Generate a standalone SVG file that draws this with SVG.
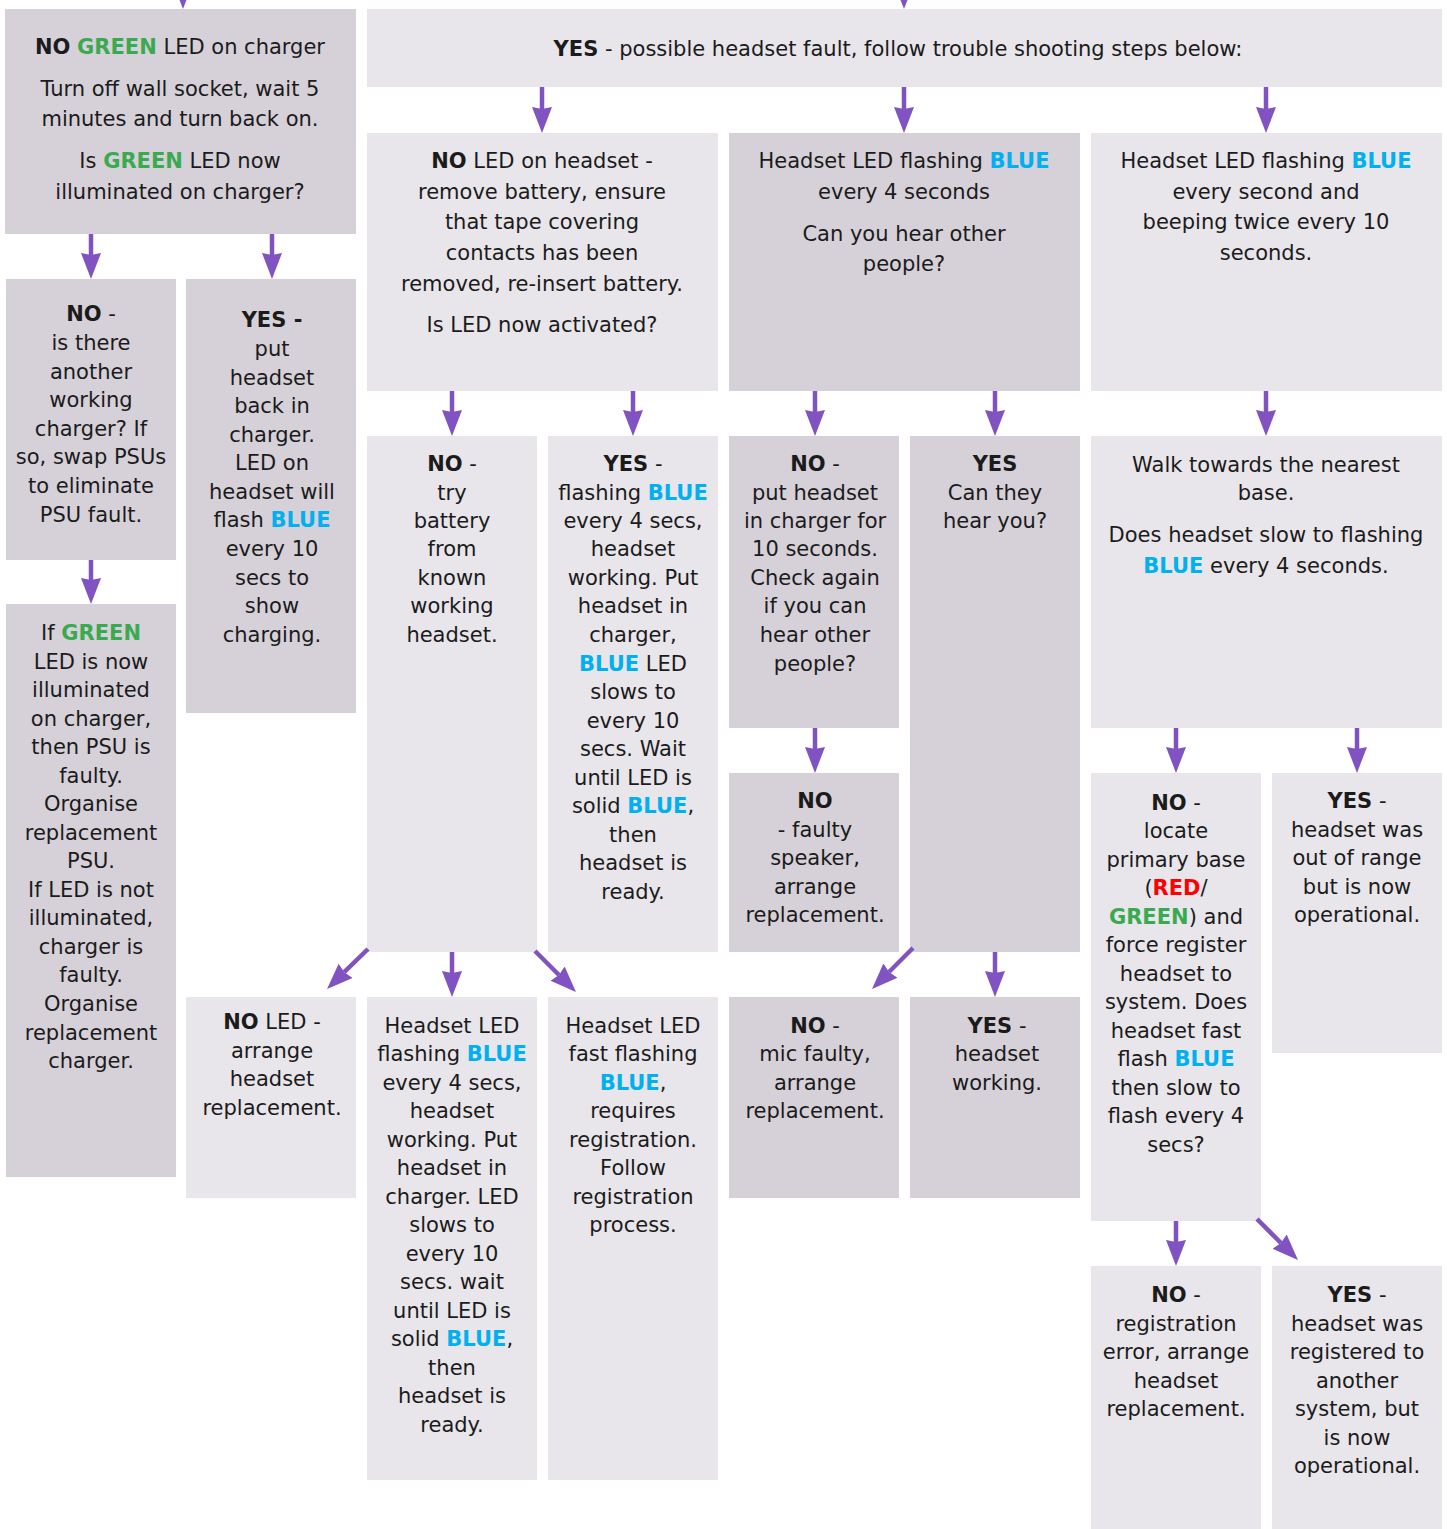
<svg xmlns="http://www.w3.org/2000/svg" width="1447" height="1529" viewBox="0 0 1447 1529">
<style>
.dk{fill:#d6d1d8}
.lt{fill:#e8e6ea}
text{font-family:"DejaVu Sans","Liberation Sans",sans-serif;font-size:21px;text-anchor:middle;fill:#1b1b1b}
.b{font-weight:bold}
.g{font-weight:bold;fill:#3aaa50}
.bl{font-weight:bold;fill:#00b0f0}
.r{font-weight:bold;fill:#ff0000}
.c{stroke:#8052c2;stroke-width:4.5;fill:none;marker-end:url(#ah)}
</style>
<defs>
<marker id="ah" markerUnits="userSpaceOnUse" markerWidth="28" markerHeight="22" refX="2" refY="10" orient="auto" viewBox="0 0 28 20">
<path d="M0,0 L26,10 L0,20 L2,10 Z" fill="#8052c2"/>
</marker>
</defs>
<rect width="1447" height="1529" fill="#ffffff"/>

<g id="n-charger">
<rect class="dk" x="5" y="9" width="351" height="225"/>
<text x="180" y="54"><tspan class="b">NO</tspan> <tspan class="g">GREEN</tspan> LED on charger</text>
<text x="180" y="96">Turn off wall socket, wait 5</text>
<text x="180" y="126">minutes and turn back on.</text>
<text x="180" y="168">Is <tspan class="g">GREEN</tspan> LED now</text>
<text x="180" y="199">illuminated on charger?</text>
</g>

<g id="n-yes-top">
<rect class="lt" x="367" y="9" width="1075" height="78"/>
<text x="898" y="56"><tspan class="b">YES</tspan> - possible headset fault, follow trouble shooting steps below:</text>
</g>

<g id="n-no-led">
<rect class="lt" x="367" y="133" width="351" height="258"/>
<text x="542" y="168"><tspan class="b">NO</tspan> LED on headset -</text>
<text x="542" y="199">remove battery, ensure</text>
<text x="542" y="229">that tape covering</text>
<text x="542" y="260">contacts has been</text>
<text x="542" y="291">removed, re-insert battery.</text>
<text x="542" y="332">Is LED now activated?</text>
</g>

<g id="n-flash4">
<rect class="dk" x="729" y="133" width="351" height="258"/>
<text x="904" y="168">Headset LED flashing <tspan class="bl">BLUE</tspan></text>
<text x="904" y="199">every 4 seconds</text>
<text x="904" y="241">Can you hear other</text>
<text x="904" y="271">people?</text>
</g>

<g id="n-flash1">
<rect class="lt" x="1091" y="133" width="351" height="258"/>
<text x="1266" y="168">Headset LED flashing <tspan class="bl">BLUE</tspan></text>
<text x="1266" y="199">every second and</text>
<text x="1266" y="229">beeping twice every 10</text>
<text x="1266" y="260">seconds.</text>
</g>

<g id="n-no-charger">
<rect class="dk" x="6" y="279" width="170" height="281"/>
<text x="91" y="321"><tspan class="b">NO</tspan> -</text>
<text x="91" y="350">is there</text>
<text x="91" y="379">another</text>
<text x="91" y="407">working</text>
<text x="91" y="436">charger? If</text>
<text x="91" y="464">so, swap PSUs</text>
<text x="91" y="493">to eliminate</text>
<text x="91" y="522">PSU fault.</text>
</g>

<g id="n-yes-put">
<rect class="dk" x="186" y="279" width="170" height="434"/>
<text x="272" y="327"><tspan class="b">YES -</tspan></text>
<text x="272" y="356">put</text>
<text x="272" y="385">headset</text>
<text x="272" y="413">back in</text>
<text x="272" y="442">charger.</text>
<text x="272" y="470">LED on</text>
<text x="272" y="499">headset will</text>
<text x="272" y="527">flash <tspan class="bl">BLUE</tspan></text>
<text x="272" y="556">every 10</text>
<text x="272" y="585">secs to</text>
<text x="272" y="613">show</text>
<text x="272" y="642">charging.</text>
</g>

<g id="n-if-green">
<rect class="dk" x="6" y="604" width="170" height="573"/>
<text x="91" y="640">If <tspan class="g">GREEN</tspan></text>
<text x="91" y="669">LED is now</text>
<text x="91" y="697">illuminated</text>
<text x="91" y="726">on charger,</text>
<text x="91" y="754">then PSU is</text>
<text x="91" y="783">faulty.</text>
<text x="91" y="811">Organise</text>
<text x="91" y="840">replacement</text>
<text x="91" y="868">PSU.</text>
<text x="91" y="897">If LED is not</text>
<text x="91" y="925">illuminated,</text>
<text x="91" y="954">charger is</text>
<text x="91" y="982">faulty.</text>
<text x="91" y="1011">Organise</text>
<text x="91" y="1040">replacement</text>
<text x="91" y="1068">charger.</text>
</g>

<g id="n-no-try">
<rect class="lt" x="367" y="436" width="170" height="516"/>
<text x="452" y="471"><tspan class="b">NO</tspan> -</text>
<text x="452" y="500">try</text>
<text x="452" y="528">battery</text>
<text x="452" y="556">from</text>
<text x="452" y="585">known</text>
<text x="452" y="613">working</text>
<text x="452" y="642">headset.</text>
</g>

<g id="n-yes-flashing">
<rect class="lt" x="548" y="436" width="170" height="516"/>
<text x="633" y="471"><tspan class="b">YES</tspan> -</text>
<text x="633" y="500">flashing <tspan class="bl">BLUE</tspan></text>
<text x="633" y="528">every 4 secs,</text>
<text x="633" y="556">headset</text>
<text x="633" y="585">working. Put</text>
<text x="633" y="613">headset in</text>
<text x="633" y="642">charger,</text>
<text x="633" y="671"><tspan class="bl">BLUE</tspan> LED</text>
<text x="633" y="699">slows to</text>
<text x="633" y="728">every 10</text>
<text x="633" y="756">secs. Wait</text>
<text x="633" y="785">until LED is</text>
<text x="633" y="813">solid <tspan class="bl">BLUE</tspan>,</text>
<text x="633" y="842">then</text>
<text x="633" y="870">headset is</text>
<text x="633" y="899">ready.</text>
</g>

<g id="n-no-put">
<rect class="dk" x="729" y="436" width="170" height="292"/>
<text x="815" y="471"><tspan class="b">NO</tspan> -</text>
<text x="815" y="500">put headset</text>
<text x="815" y="528">in charger for</text>
<text x="815" y="556">10 seconds.</text>
<text x="815" y="585">Check again</text>
<text x="815" y="613">if you can</text>
<text x="815" y="642">hear other</text>
<text x="815" y="671">people?</text>
</g>

<g id="n-yes-can">
<rect class="dk" x="910" y="436" width="170" height="516"/>
<text x="995" y="471"><tspan class="b">YES</tspan></text>
<text x="995" y="500">Can they</text>
<text x="995" y="528">hear you?</text>
</g>

<g id="n-walk">
<rect class="lt" x="1091" y="436" width="351" height="292"/>
<text x="1266" y="472">Walk towards the nearest</text>
<text x="1266" y="500">base.</text>
<text x="1266" y="542">Does headset slow to flashing</text>
<text x="1266" y="573"><tspan class="bl">BLUE</tspan> every 4 seconds.</text>
</g>

<g id="n-no-speaker">
<rect class="dk" x="729" y="773" width="170" height="179"/>
<text x="815" y="808"><tspan class="b">NO</tspan></text>
<text x="815" y="837">- faulty</text>
<text x="815" y="865">speaker,</text>
<text x="815" y="894">arrange</text>
<text x="815" y="922">replacement.</text>
</g>

<g id="n-no-locate">
<rect class="lt" x="1091" y="773" width="170" height="448"/>
<text x="1176" y="810"><tspan class="b">NO</tspan> -</text>
<text x="1176" y="838">locate</text>
<text x="1176" y="867">primary base</text>
<text x="1176" y="895">(<tspan class="r">RED</tspan>/</text>
<text x="1176" y="924"><tspan class="g">GREEN</tspan>) and</text>
<text x="1176" y="952">force register</text>
<text x="1176" y="981">headset to</text>
<text x="1176" y="1009">system. Does</text>
<text x="1176" y="1038">headset fast</text>
<text x="1176" y="1066">flash <tspan class="bl">BLUE</tspan></text>
<text x="1176" y="1095">then slow to</text>
<text x="1176" y="1123">flash every 4</text>
<text x="1176" y="1152">secs?</text>
</g>

<g id="n-yes-range">
<rect class="lt" x="1272" y="773" width="170" height="280"/>
<text x="1357" y="808"><tspan class="b">YES</tspan> -</text>
<text x="1357" y="837">headset was</text>
<text x="1357" y="865">out of range</text>
<text x="1357" y="894">but is now</text>
<text x="1357" y="922">operational.</text>
</g>

<g id="n-no-arrange">
<rect class="lt" x="186" y="997" width="170" height="201"/>
<text x="272" y="1029"><tspan class="b">NO</tspan> LED -</text>
<text x="272" y="1058">arrange</text>
<text x="272" y="1086">headset</text>
<text x="272" y="1115">replacement.</text>
</g>

<g id="n-led-flash4">
<rect class="lt" x="367" y="997" width="170" height="483"/>
<text x="452" y="1033">Headset LED</text>
<text x="452" y="1061">flashing <tspan class="bl">BLUE</tspan></text>
<text x="452" y="1090">every 4 secs,</text>
<text x="452" y="1118">headset</text>
<text x="452" y="1147">working. Put</text>
<text x="452" y="1175">headset in</text>
<text x="452" y="1204">charger. LED</text>
<text x="452" y="1232">slows to</text>
<text x="452" y="1261">every 10</text>
<text x="452" y="1289">secs. wait</text>
<text x="452" y="1318">until LED is</text>
<text x="452" y="1346">solid <tspan class="bl">BLUE</tspan>,</text>
<text x="452" y="1375">then</text>
<text x="452" y="1403">headset is</text>
<text x="452" y="1432">ready.</text>
</g>

<g id="n-fast-flash">
<rect class="lt" x="548" y="997" width="170" height="483"/>
<text x="633" y="1033">Headset LED</text>
<text x="633" y="1061">fast flashing</text>
<text x="633" y="1090"><tspan class="bl">BLUE</tspan>,</text>
<text x="633" y="1118">requires</text>
<text x="633" y="1147">registration.</text>
<text x="633" y="1175">Follow</text>
<text x="633" y="1204">registration</text>
<text x="633" y="1232">process.</text>
</g>

<g id="n-no-mic">
<rect class="dk" x="729" y="997" width="170" height="201"/>
<text x="815" y="1033"><tspan class="b">NO</tspan> -</text>
<text x="815" y="1061">mic faulty,</text>
<text x="815" y="1090">arrange</text>
<text x="815" y="1118">replacement.</text>
</g>

<g id="n-yes-working">
<rect class="dk" x="910" y="997" width="170" height="201"/>
<text x="997" y="1033"><tspan class="b">YES</tspan> -</text>
<text x="997" y="1061">headset</text>
<text x="997" y="1090">working.</text>
</g>

<g id="n-no-reg">
<rect class="lt" x="1091" y="1266" width="170" height="263"/>
<text x="1176" y="1302"><tspan class="b">NO</tspan> -</text>
<text x="1176" y="1331">registration</text>
<text x="1176" y="1359">error, arrange</text>
<text x="1176" y="1388">headset</text>
<text x="1176" y="1416">replacement.</text>
</g>

<g id="n-yes-reg">
<rect class="lt" x="1272" y="1266" width="170" height="263"/>
<text x="1357" y="1302"><tspan class="b">YES</tspan> -</text>
<text x="1357" y="1331">headset was</text>
<text x="1357" y="1359">registered to</text>
<text x="1357" y="1388">another</text>
<text x="1357" y="1416">system, but</text>
<text x="1357" y="1445">is now</text>
<text x="1357" y="1473">operational.</text>
</g>

<g id="connectors">
<path class="c" d="M183,-40 L183,-15"/>
<path class="c" d="M904,-40 L904,-15"/>
<path class="c" d="M542,87 L542,109"/>
<path class="c" d="M904,87 L904,109"/>
<path class="c" d="M1266,87 L1266,109"/>
<path class="c" d="M91,234 L91,255"/>
<path class="c" d="M272,234 L272,255"/>
<path class="c" d="M91,560 L91,580"/>
<path class="c" d="M452,391 L452,412"/>
<path class="c" d="M633,391 L633,412"/>
<path class="c" d="M815,391 L815,412"/>
<path class="c" d="M995,391 L995,412"/>
<path class="c" d="M1266,391 L1266,412"/>
<path class="c" d="M815,728 L815,749"/>
<path class="c" d="M1176,728 L1176,749"/>
<path class="c" d="M1357,728 L1357,749"/>
<path class="c" d="M368,949 L344.2,972.2"/>
<path class="c" d="M452,952 L452,973"/>
<path class="c" d="M535,951 L559,975"/>
<path class="c" d="M913,948 L889,972"/>
<path class="c" d="M995,952 L995,973"/>
<path class="c" d="M1176,1221 L1176,1242"/>
<path class="c" d="M1257,1219 L1281,1243"/>
</g>
</svg>
